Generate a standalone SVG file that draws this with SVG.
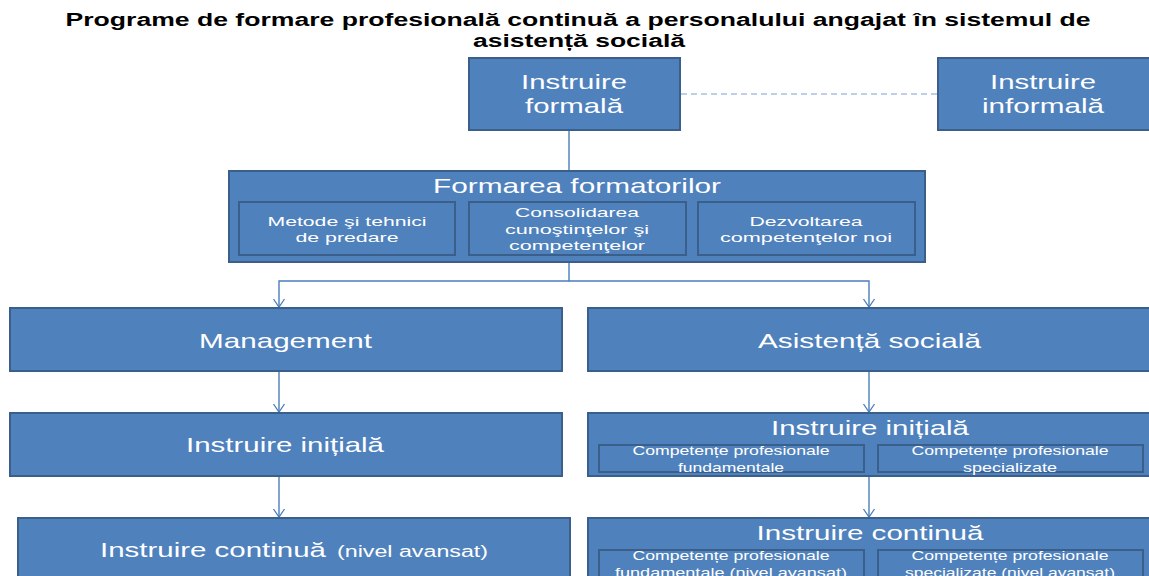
<svg xmlns="http://www.w3.org/2000/svg" width="1149" height="576" viewBox="0 0 1149 576">
<defs>
<style>
.box{fill:#4F81BD;stroke:#3A5F8B;stroke-width:2}
.ibox{fill:#4F81BD;stroke:#3A5F8B;stroke-width:2}
.t{font-family:"Liberation Sans",Arial,sans-serif;fill:#FFFFFF}
.big{font-size:21px}
.sm{font-size:13.5px}
.xs{font-size:13px}
.title{font-family:"Liberation Sans",Arial,sans-serif;font-weight:bold;font-size:18px;fill:#000000}
.con{fill:none;stroke:#4A7EBB;stroke-width:1.4}
.dash{fill:none;stroke:#A9C1DF;stroke-width:1.5;stroke-dasharray:6 4}
</style>
<marker id="arr" viewBox="-10 -7 12 14" refX="0" refY="0" markerWidth="12" markerHeight="14" orient="auto" markerUnits="userSpaceOnUse">
<path d="M-8,-5.5 L0,0 L-8,5.5" fill="none" stroke="#4A7EBB" stroke-width="1.3"/>
</marker>
</defs>
<rect width="1149" height="576" fill="#FFFFFF"/>

<g id="title">
<text class="title" x="578" y="26" text-anchor="middle" textLength="1025" lengthAdjust="spacingAndGlyphs">Programe de formare profesională continuă a personalului angajat în sistemul de</text>
<text class="title" x="579" y="47" text-anchor="middle" textLength="212" lengthAdjust="spacingAndGlyphs">asistență socială</text>
</g>

<g id="connectors">
<line class="dash" x1="681" y1="94" x2="937" y2="94"/>
<line class="con" x1="569" y1="131" x2="569" y2="170"/>
<polyline class="con" points="569,262 569,281 279,281 279,307" marker-end="url(#arr)"/>
<polyline class="con" points="569,281 869,281 869,307" marker-end="url(#arr)"/>
<line class="con" x1="279" y1="372" x2="279" y2="412" marker-end="url(#arr)"/>
<line class="con" x1="869" y1="372" x2="869" y2="412" marker-end="url(#arr)"/>
<line class="con" x1="279" y1="477" x2="279" y2="517" marker-end="url(#arr)"/>
<line class="con" x1="869" y1="477" x2="869" y2="517" marker-end="url(#arr)"/>
</g>

<g id="instruire-formala">
<rect class="box" x="469" y="58" width="211" height="72"/>
<text class="t big" x="574" y="89" text-anchor="middle" textLength="106" lengthAdjust="spacingAndGlyphs">Instruire</text>
<text class="t big" x="574" y="113" text-anchor="middle" textLength="98" lengthAdjust="spacingAndGlyphs">formală</text>
</g>

<g id="instruire-informala">
<rect class="box" x="938" y="58" width="212" height="72"/>
<text class="t big" x="1043" y="89" text-anchor="middle" textLength="106" lengthAdjust="spacingAndGlyphs">Instruire</text>
<text class="t big" x="1043" y="113" text-anchor="middle" textLength="122" lengthAdjust="spacingAndGlyphs">informală</text>
</g>

<g id="formarea-formatorilor">
<rect class="box" x="229" y="171" width="696" height="91"/>
<text class="t big" x="577" y="193" text-anchor="middle" textLength="288" lengthAdjust="spacingAndGlyphs">Formarea formatorilor</text>
<g id="metode">
<rect class="ibox" x="239" y="202" width="216" height="53"/>
<text class="t sm" x="347" y="226" text-anchor="middle" textLength="159" lengthAdjust="spacingAndGlyphs">Metode şi tehnici</text>
<text class="t sm" x="347" y="242" text-anchor="middle" textLength="103" lengthAdjust="spacingAndGlyphs">de predare</text>
</g>
<g id="consolidarea">
<rect class="ibox" x="469" y="202" width="217" height="53"/>
<text class="t sm" x="577" y="217" text-anchor="middle" textLength="124" lengthAdjust="spacingAndGlyphs">Consolidarea</text>
<text class="t sm" x="577" y="234" text-anchor="middle" textLength="144" lengthAdjust="spacingAndGlyphs">cunoştinţelor şi</text>
<text class="t sm" x="577" y="250" text-anchor="middle" textLength="136" lengthAdjust="spacingAndGlyphs">competenţelor</text>
</g>
<g id="dezvoltarea">
<rect class="ibox" x="698" y="202" width="217" height="53"/>
<text class="t sm" x="806" y="226" text-anchor="middle" textLength="113" lengthAdjust="spacingAndGlyphs">Dezvoltarea</text>
<text class="t sm" x="806" y="242" text-anchor="middle" textLength="172" lengthAdjust="spacingAndGlyphs">competenţelor noi</text>
</g>
</g>

<g id="management">
<rect class="box" x="10" y="308" width="552" height="63"/>
<text class="t big" x="285.5" y="348" text-anchor="middle" textLength="173" lengthAdjust="spacingAndGlyphs">Management</text>
</g>

<g id="asistenta-sociala">
<rect class="box" x="588" y="308" width="562" height="63"/>
<text class="t big" x="869.5" y="348" text-anchor="middle" textLength="223" lengthAdjust="spacingAndGlyphs">Asistență socială</text>
</g>

<g id="instruire-initiala-management">
<rect class="box" x="10" y="413" width="552" height="63"/>
<text class="t big" x="285" y="452" text-anchor="middle" textLength="198" lengthAdjust="spacingAndGlyphs">Instruire inițială</text>
</g>

<g id="instruire-continua-management">
<rect class="box" x="18" y="518" width="552" height="72"/>
<text class="t big" x="100" y="557" textLength="226" lengthAdjust="spacingAndGlyphs">Instruire continuă</text>
<text class="t" style="font-size:16px" x="337" y="557" textLength="151" lengthAdjust="spacingAndGlyphs">(nivel avansat)</text>
</g>

<g id="instruire-initiala-asistenta">
<rect class="box" x="588" y="413" width="562" height="63"/>
<text class="t big" x="870" y="435" text-anchor="middle" textLength="198" lengthAdjust="spacingAndGlyphs">Instruire inițială</text>
<g id="ii-fundamentale">
<rect class="ibox" x="599" y="445" width="265" height="27"/>
<text class="t xs" x="731" y="455" text-anchor="middle" textLength="197" lengthAdjust="spacingAndGlyphs">Competențe profesionale</text>
<text class="t xs" x="731" y="472" text-anchor="middle" textLength="106" lengthAdjust="spacingAndGlyphs">fundamentale</text>
</g>
<g id="ii-specializate">
<rect class="ibox" x="878" y="445" width="265" height="27"/>
<text class="t xs" x="1010" y="455" text-anchor="middle" textLength="197" lengthAdjust="spacingAndGlyphs">Competențe profesionale</text>
<text class="t xs" x="1010" y="472" text-anchor="middle" textLength="94" lengthAdjust="spacingAndGlyphs">specializate</text>
</g>
</g>

<g id="instruire-continua-asistenta">
<rect class="box" x="588" y="518" width="562" height="72"/>
<text class="t big" x="870" y="540" text-anchor="middle" textLength="227" lengthAdjust="spacingAndGlyphs">Instruire continuă</text>
<g id="ic-fundamentale">
<rect class="ibox" x="599" y="550" width="265" height="30"/>
<text class="t xs" x="731" y="560" text-anchor="middle" textLength="197" lengthAdjust="spacingAndGlyphs">Competențe profesionale</text>
<text class="t xs" x="731" y="577" text-anchor="middle" textLength="232" lengthAdjust="spacingAndGlyphs">fundamentale  (nivel avansat)</text>
</g>
<g id="ic-specializate">
<rect class="ibox" x="878" y="550" width="265" height="30"/>
<text class="t xs" x="1010" y="560" text-anchor="middle" textLength="197" lengthAdjust="spacingAndGlyphs">Competențe profesionale</text>
<text class="t xs" x="1010" y="577" text-anchor="middle" textLength="210" lengthAdjust="spacingAndGlyphs">specializate (nivel avansat)</text>
</g>
</g>
</svg>
